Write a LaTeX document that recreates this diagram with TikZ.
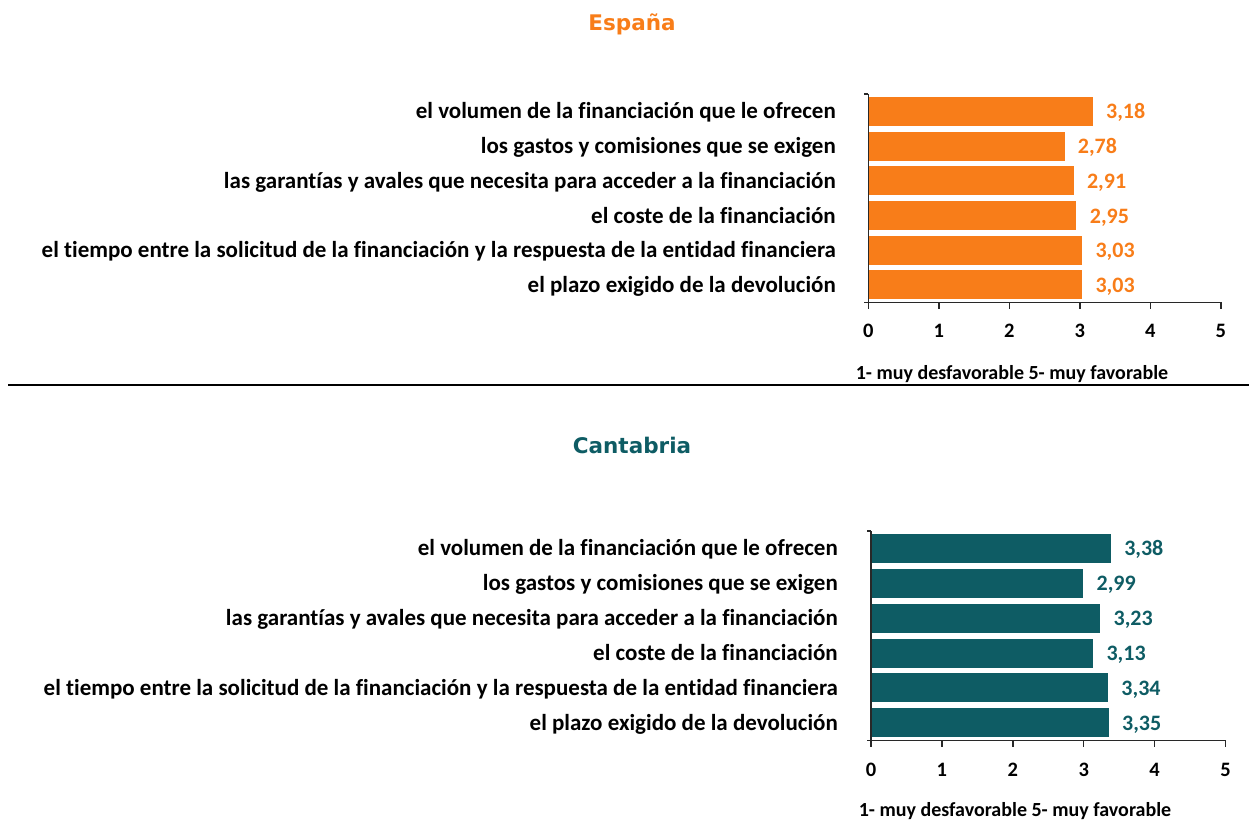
\documentclass[tikz,border=0pt]{standalone}
\usepackage{fontspec}
\setmainfont{Carlito}[Ligatures={NoCommon}]
\newfontfamily\titlefont{DejaVu Sans}
\definecolor{esp}{RGB}{248,125,25}
\definecolor{cant}{RGB}{14,92,100}
\definecolor{axisc}{RGB}{40,40,40}
\begin{document}
\begin{tikzpicture}[x=1pt,y=-1pt,
  catlabel/.style={anchor=base east, inner sep=0, font=\fontsize{23}{27}\selectfont\bfseries, text=black},
  barbox/.style={anchor=west, inner sep=0, draw=none, minimum height=29pt},
  vallabel/.style={anchor=base west, inner sep=0, font=\fontsize{22}{26}\selectfont\bfseries},
  ticklabel/.style={anchor=base, inner sep=0, font=\fontsize{20.5}{24}\selectfont\bfseries},
  footlabel/.style={anchor=base, inner sep=0, font=\fontsize{20}{24}\selectfont\bfseries},
  titlelabel/.style={anchor=base, inner sep=0, font=\fontsize{21.5}{26}\titlefont\bfseries},
  axisline/.style={draw=axisc, line width=1.4pt}
]
\useasboundingbox (0,0) rectangle (1249,819);

% ---------- España ----------
\node[titlelabel, text=esp] (t1) at (632,30) {España};
\foreach \lab/\val/\txt [count=\i] in {
  {el volumen de la financiación que le ofrecen}/3.18/{3,18},
  {los gastos y comisiones que se exigen}/2.78/{2,78},
  {las garantías y avales que necesita para acceder a la financiación}/2.91/{2,91},
  {el coste de la financiación}/2.95/{2,95},
  {el tiempo entre la solicitud de la financiación y la respuesta de la entidad financiera}/3.03/{3,03},
  {el plazo exigido de la devolución}/3.03/{3,03}}
{
  \pgfmathsetmacro\yc{94+34.72*(\i-0.5)}
  \pgfmathsetmacro\bw{\val*70.5}
  \node[catlabel] (tl\i) at (836,\yc+7.5) {\lab};
  \node[barbox, fill=esp, minimum width=\bw pt] (tb\i) at (868.3,\yc) {};
  \node[vallabel, text=esp] (tv\i) at ([xshift=13pt,yshift=-7.5pt]tb\i.east) {\txt};
}
\coordinate (ta0) at (868.3,94);
\coordinate (ta1) at (868.3,302.3);
\coordinate (ta2) at (1221,302.3);
\draw[axisline] (ta0) -- (ta1) -- (ta2);
\draw[axisline] (ta0) -- ++(-4.5,0);
\draw[axisline] (ta1) -- ++(-4.5,0);
\foreach \k in {0,...,5}{
  \coordinate (tt\k) at (868.3+\k*70.5,302.3);
  \draw[axisline] (tt\k) -- ++(0,7);
  \node[ticklabel] (tk\k) at (868.3+\k*70.5,337.5) {\k};
}
\node[footlabel] (tf) at (1012,379) {1- muy desfavorable 5- muy favorable};

% separator
\coordinate (s0) at (8,384.5);
\coordinate (s1) at (1249,384.5);
\draw[line width=2pt, black] (s0) -- (s1);

% ---------- Cantabria ----------
\node[titlelabel, text=cant] (t2) at (632,453) {Cantabria};
\foreach \lab/\val/\txt [count=\i] in {
  {el volumen de la financiación que le ofrecen}/3.38/{3,38},
  {los gastos y comisiones que se exigen}/2.99/{2,99},
  {las garantías y avales que necesita para acceder a la financiación}/3.23/{3,23},
  {el coste de la financiación}/3.13/{3,13},
  {el tiempo entre la solicitud de la financiación y la respuesta de la entidad financiera}/3.34/{3,34},
  {el plazo exigido de la devolución}/3.35/{3,35}}
{
  \pgfmathsetmacro\yc{531+34.88*(\i-0.5)}
  \pgfmathsetmacro\bw{\val*70.9}
  \node[catlabel] (bl\i) at (838,\yc+7.5) {\lab};
  \node[barbox, fill=cant, minimum width=\bw pt] (bb\i) at (871,\yc) {};
  \node[vallabel, text=cant] (bv\i) at ([xshift=13pt,yshift=-7.5pt]bb\i.east) {\txt};
}
\coordinate (ba0) at (871,531);
\coordinate (ba1) at (871,740.3);
\coordinate (ba2) at (1225.5,740.3);
\draw[axisline] (ba0) -- (ba1) -- (ba2);
\draw[axisline] (ba0) -- ++(-4.5,0);
\draw[axisline] (ba1) -- ++(-4.5,0);
\foreach \k in {0,...,5}{
  \coordinate (bt\k) at (871+\k*70.9,740.3);
  \draw[axisline] (bt\k) -- ++(0,7);
  \node[ticklabel] (bk\k) at (871+\k*70.9,776.5) {\k};
}
\node[footlabel] (bf) at (1015,816) {1- muy desfavorable 5- muy favorable};
\end{tikzpicture}
\end{document}
